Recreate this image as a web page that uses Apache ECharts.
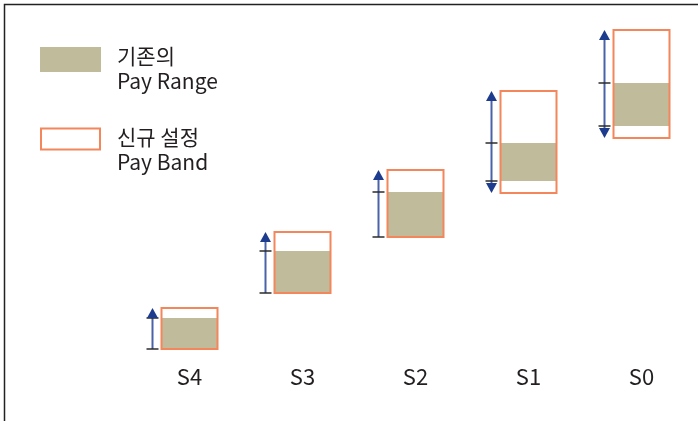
<!DOCTYPE html>
<html>
<head>
<meta charset="utf-8">
<script src="https://cdn.jsdelivr.net/npm/echarts@6/dist/echarts.min.js"></script>
<style>
  html, body { margin: 0; padding: 0; background: #ffffff; }
  #chart { width: 698px; height: 421px; }
</style>
</head>
<body>
<div id="chart"></div>
<script>
// Salary grades, left to right
const grades = ['S4', 'S3', 'S2', 'S1', 'S0'];
// New pay band (orange outline), low and high
const bandLow  = [0.5, 28.5, 56.5, 78.5, 106];
const bandHigh = [21, 59, 90, 129.5, 160];
// Existing pay range (filled), low and high
const rangeLow  = [0.5, 28.5, 56.5, 84.5, 112];
const rangeHigh = [16, 49.5, 79, 103.5, 133.5];
// Legend entries
const legendLabels = ['기존의\nPay Range', '신규 설정\nPay Band'];

const FONT = "'Noto Sans CJK KR', 'Noto Sans', sans-serif";
const TEXT = '#231f20';
const KHAKI = '#bfbb9b';
const ORANGE = '#f4865c';
const ARROW_LINE = '#4a62a8';
const ARROW_HEAD = '#1e3c8e';
const TICK = '#2b2b2b';

const rows = grades.map((g, i) => [i, bandLow[i], bandHigh[i], rangeLow[i], rangeHigh[i]]);

function renderGrade(params, api) {
  const i = api.value(0);
  const bl = api.value(1), bh = api.value(2), rl = api.value(3), rh = api.value(4);
  const cx = api.coord([i, 0])[0];
  const BOX = 56;
  const x0 = cx - BOX / 2;
  const yBL = api.coord([i, bl])[1];
  const yBH = api.coord([i, bh])[1];
  const yRL = api.coord([i, rl])[1];
  const yRH = api.coord([i, rh])[1];
  const ax = Math.round(x0 - 10) + 0.5;
  const HEAD = 10, HALF = 5.5, TW = 6;
  const down = bl < rl - 0.01;

  const children = [
    { type: 'rect', shape: { x: x0, y: yRH, width: BOX, height: yRL - yRH }, style: { fill: KHAKI } },
    { type: 'rect', shape: { x: x0, y: yBH, width: BOX, height: yBL - yBH }, style: { fill: 'none', stroke: ORANGE, lineWidth: 2 } },
    { type: 'line', shape: { x1: ax, y1: yBH + HEAD - 1, x2: ax, y2: down ? yBL - HEAD + 1 : yRL }, style: { stroke: ARROW_LINE, lineWidth: 2 } },
    { type: 'line', shape: { x1: ax - TW, y1: yRH, x2: ax + TW, y2: yRH }, style: { stroke: TICK, lineWidth: 1.5 } },
    { type: 'line', shape: { x1: ax - TW, y1: yRL, x2: ax + TW, y2: yRL }, style: { stroke: TICK, lineWidth: 1.5 } },
    { type: 'polygon', shape: { points: [[ax, yBH], [ax - HALF, yBH + HEAD], [ax + HALF, yBH + HEAD]] }, style: { fill: ARROW_HEAD } }
  ];
  if (down) {
    children.push({ type: 'polygon', shape: { points: [[ax, yBL], [ax - HALF, yBL - HEAD], [ax + HALF, yBL - HEAD]] }, style: { fill: ARROW_HEAD } });
  }
  return { type: 'group', children: children };
}

const chart = echarts.init(document.getElementById('chart'), null, { renderer: 'canvas' });
chart.setOption({
  animation: false,
  backgroundColor: '#ffffff',
  grid: { left: 133, right: -2, top: 10, bottom: 71 },
  xAxis: {
    type: 'category',
    data: grades,
    axisLine: { show: false },
    axisTick: { show: false },
    axisLabel: { fontFamily: FONT, fontSize: 22, color: TEXT, margin: 16 }
  },
  yAxis: { type: 'value', min: 0, max: 170, show: false },
  series: [{
    type: 'custom',
    renderItem: renderGrade,
    data: rows,
    encode: { x: 0, y: [1, 2, 3, 4] }
  }],
  graphic: [
    { type: 'polyline', shape: { points: [[4.5, 421], [4.5, 4.5], [698, 4.5]] }, style: { stroke: '#222', lineWidth: 1.5, fill: 'none' } },
    { type: 'rect', shape: { x: 40, y: 47, width: 61, height: 25 }, style: { fill: KHAKI } },
    { type: 'rect', shape: { x: 41, y: 128.5, width: 59, height: 21 }, style: { fill: 'none', stroke: ORANGE, lineWidth: 2 } },
    { type: 'text', x: 117, y: 44, style: { text: legendLabels[0], font: '21px ' + FONT, fill: TEXT, lineHeight: 25, verticalAlign: 'top' } },
    { type: 'text', x: 117, y: 124.5, style: { text: legendLabels[1], font: '21px ' + FONT, fill: TEXT, lineHeight: 25, verticalAlign: 'top' } }
  ]
});
</script>
</body>
</html>
